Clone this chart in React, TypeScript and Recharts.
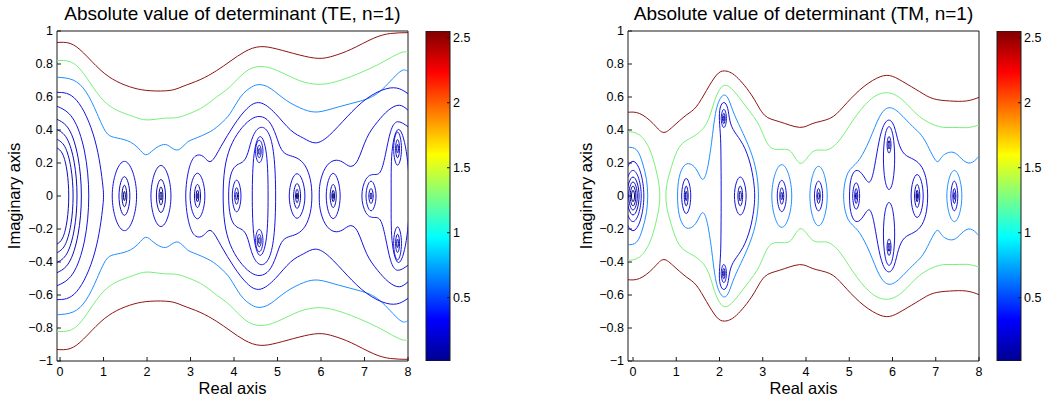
import React from 'react'
import { ScatterChart, Scatter, XAxis, YAxis, BarChart, Bar } from 'recharts'

type Pt = [number, number]

// ── Axes / labels ───────────────────────────────────────────────────────────

const xTicks = [0, 1, 2, 3, 4, 5, 6, 7, 8]
const yTicks = [-1, -0.8, -0.6, -0.4, -0.2, 0, 0.2, 0.4, 0.6, 0.8, 1]
const cbTicks = [0.5, 1, 1.5, 2, 2.5]
const cbRange: [number, number] = [0.013, 2.552]
const teXRange: [number, number] = [-0.07, 8]
const tmXRange: [number, number] = [-0.116, 8]
const titles = ['Absolute value of determinant (TE, n=1)', 'Absolute value of determinant (TM, n=1)']

// ── TE contours ─────────────────────────────────────────────────────────────

const teRedTop: Pt[] = [[-0.08,0.93],[0.23,0.925],[0.54,0.867],[0.92,0.766],[1.3,0.695],[1.69,0.655],[2.07,0.638],[2.53,0.64],[2.83,0.665],[3.22,0.705],[3.6,0.76],[3.91,0.816],[4.25,0.875],[4.6,0.905],[5.0,0.89],[5.5,0.855],[5.95,0.834],[6.3,0.85],[6.7,0.89],[7.2,0.955],[7.6,0.985],[8.0,0.99]]
const teRedBottom: Pt[] = [[-0.08,-0.93],[0.23,-0.925],[0.54,-0.867],[0.92,-0.766],[1.3,-0.695],[1.69,-0.655],[2.07,-0.638],[2.53,-0.64],[2.83,-0.665],[3.22,-0.705],[3.6,-0.76],[3.91,-0.816],[4.25,-0.875],[4.6,-0.905],[5.0,-0.89],[5.5,-0.855],[5.95,-0.834],[6.3,-0.85],[6.7,-0.89],[7.2,-0.955],[7.6,-0.985],[8.0,-0.99]]

const teGreenTop: Pt[] = [[-0.08,0.82],[0.23,0.814],[0.54,0.743],[0.92,0.602],[1.3,0.521],[1.69,0.481],[2.0,0.461],[2.38,0.471],[2.68,0.475],[2.99,0.501],[3.3,0.541],[3.6,0.6],[3.91,0.663],[4.25,0.75],[4.6,0.785],[5.0,0.76],[5.5,0.7],[5.95,0.677],[6.3,0.69],[6.7,0.725],[7.3,0.795],[7.8,0.865],[8.0,0.87]]
const teGreenBottom: Pt[] = [[-0.08,-0.82],[0.23,-0.814],[0.54,-0.743],[0.92,-0.602],[1.3,-0.521],[1.69,-0.481],[2.0,-0.461],[2.38,-0.471],[2.68,-0.475],[2.99,-0.501],[3.3,-0.541],[3.6,-0.6],[3.91,-0.663],[4.25,-0.75],[4.6,-0.785],[5.0,-0.76],[5.5,-0.7],[5.95,-0.677],[6.3,-0.69],[6.7,-0.725],[7.3,-0.795],[7.8,-0.865],[8.0,-0.87]]

const teLightTop: Pt[] = [[-0.08,0.72],[0.3,0.703],[0.6,0.63],[0.85,0.5],[1.05,0.39],[1.25,0.355],[1.55,0.335],[1.8,0.29],[1.97,0.25],[2.15,0.28],[2.38,0.312],[2.55,0.295],[2.72,0.28],[2.9,0.32],[3.07,0.345],[3.45,0.39],[3.7,0.44],[3.91,0.5],[4.15,0.6],[4.4,0.66],[4.6,0.675],[4.85,0.65],[5.2,0.58],[5.6,0.525],[5.95,0.51],[6.4,0.54],[6.9,0.575],[7.36,0.635],[7.8,0.75],[8.0,0.753]]
const teLightBottom: Pt[] = [[-0.08,-0.72],[0.3,-0.703],[0.6,-0.63],[0.85,-0.5],[1.05,-0.39],[1.25,-0.355],[1.55,-0.335],[1.8,-0.29],[1.97,-0.25],[2.15,-0.28],[2.38,-0.312],[2.55,-0.295],[2.72,-0.28],[2.9,-0.32],[3.07,-0.345],[3.45,-0.39],[3.7,-0.44],[3.91,-0.5],[4.15,-0.6],[4.4,-0.66],[4.6,-0.675],[4.85,-0.65],[5.2,-0.58],[5.6,-0.525],[5.95,-0.51],[6.4,-0.54],[6.9,-0.575],[7.36,-0.635],[7.8,-0.75],[8.0,-0.753]]

// arcs around the zero left of x = 0
const teArcsInner: Pt[][] = [
  [[-0.08,0.293],[0.06,0.254],[0.1625,0.1465],[0.2,0],[0.1625,-0.1465],[0.06,-0.254],[-0.08,-0.293]],
  [[-0.08,0.345],[0.11,0.299],[0.249,0.1725],[0.3,0],[0.249,-0.1725],[0.11,-0.299],[-0.08,-0.345]],
  [[-0.08,0.404],[0.155,0.35],[0.327,0.202],[0.39,0],[0.327,-0.202],[0.155,-0.35],[-0.08,-0.404]],
  [[-0.08,0.466],[0.205,0.404],[0.414,0.233],[0.49,0],[0.414,-0.233],[0.205,-0.404],[-0.08,-0.466]],
]
const teArcsOuter: Pt[][] = [
  [[-0.08,0.545],[0.29,0.472],[0.561,0.2725],[0.66,0],[0.561,-0.2725],[0.29,-0.472],[-0.08,-0.545]],
  [[-0.08,0.628],[0.15,0.622],[0.38,0.58],[0.61,0.48],[0.8,0.34],[0.92,0.19],[0.985,0.06],[1.0,0],[0.985,-0.06],[0.92,-0.19],[0.8,-0.34],[0.61,-0.48],[0.38,-0.58],[0.15,-0.622],[-0.08,-0.628]],
]

const teBlueOpen: Pt[][] = [
  [[8.0,0.62],[7.8,0.65],[7.5,0.65],[7.05,0.59],[6.6,0.48],[6.2,0.37],[5.88,0.322],[5.6,0.35],[5.3,0.4],[4.95,0.5],[4.6,0.565],[4.3,0.53],[4.0,0.43],[3.7,0.3],[3.47,0.21],[3.3,0.238],[3.12,0.243],[2.97,0.17],[2.89,0],[2.97,-0.17],[3.12,-0.243],[3.3,-0.238],[3.47,-0.21],[3.7,-0.3],[4.0,-0.43],[4.3,-0.53],[4.6,-0.565],[4.95,-0.5],[5.3,-0.4],[5.6,-0.35],[5.88,-0.322],[6.2,-0.37],[6.6,-0.48],[7.05,-0.59],[7.5,-0.65],[7.8,-0.65],[8.0,-0.62]],
  [[8.0,0.52],[7.8,0.55],[7.55,0.52],[7.3,0.45],[7.05,0.35],[6.85,0.22],[6.67,0.18],[6.5,0.205],[6.3,0.215],[6.1,0.17],[5.98,0.08],[5.96,0],[5.98,-0.08],[6.1,-0.17],[6.3,-0.215],[6.5,-0.205],[6.67,-0.18],[6.85,-0.22],[7.05,-0.35],[7.3,-0.45],[7.55,-0.52],[7.8,-0.55],[8.0,-0.52]],
  [[8.0,0.42],[7.76,0.45],[7.6,0.39],[7.48,0.25],[7.36,0.145],[7.2,0.13],[7.03,0.1],[6.94,0],[7.03,-0.1],[7.2,-0.13],[7.36,-0.145],[7.48,-0.25],[7.6,-0.39],[7.76,-0.45],[8.0,-0.42]],
]

const teBlueLoops: Pt[][] = [
  [[3.74,0],[3.77,0.17],[3.9,0.3],[4.12,0.4],[4.38,0.47],[4.6,0.49],[4.82,0.46],[4.97,0.37],[5.08,0.27],[5.25,0.245],[5.45,0.235],[5.65,0.19],[5.77,0.1],[5.8,0],[5.77,-0.1],[5.65,-0.19],[5.45,-0.235],[5.25,-0.245],[5.08,-0.27],[4.97,-0.37],[4.82,-0.46],[4.6,-0.49],[4.38,-0.47],[4.12,-0.4],[3.9,-0.3],[3.77,-0.17]],
  [[3.87,0],[3.89,0.1],[3.97,0.17],[4.1,0.195],[4.22,0.205],[4.32,0.25],[4.42,0.37],[4.6,0.43],[4.8,0.4],[4.93,0.27],[4.97,0],[4.93,-0.27],[4.8,-0.4],[4.6,-0.43],[4.42,-0.37],[4.32,-0.25],[4.22,-0.205],[4.1,-0.195],[3.97,-0.17],[3.89,-0.1]],
  [[4.79,0],[4.77,0.28],[4.6,0.4],[4.44,0.28],[4.41,0],[4.44,-0.28],[4.6,-0.4],[4.77,-0.28]],
  [[8.06,0],[7.98,0.29],[7.78,0.46],[7.6,0.29],[7.62,0],[7.6,-0.29],[7.78,-0.46],[7.98,-0.29]],
  [[1.9,0],[1.48,0.315],[1.06,0],[1.48,-0.315]],
  [[2.665,0],[2.32,0.2775],[1.975,0],[2.32,-0.2775]],
  [[3.415,0],[3.16,0.207],[2.905,0],[3.16,-0.207]],
  [[4.21,0],[4.06,0.144],[3.91,0],[4.06,-0.144]],
  [[4.7075,0.27],[4.58,0.372],[4.4525,0.27],[4.58,0.168]],
  [[4.7075,-0.27],[4.58,-0.168],[4.4525,-0.27],[4.58,-0.372]],
  [[5.72,0],[5.45,0.2025],[5.18,0],[5.45,-0.2025]],
  [[6.52,0],[6.28,0.2055],[6.04,0],[6.28,-0.2055]],
  [[7.3225,0],[7.15,0.135],[6.9775,0],[7.15,-0.135]],
  [[7.895,0.287],[7.76,0.437],[7.625,0.287],[7.76,0.137]],
  [[7.895,-0.287],[7.76,-0.137],[7.625,-0.287],[7.76,-0.437]],
]

const teMidLoops: Pt[][] = [
  [[1.6675,0],[1.48,0.1755],[1.2925,0],[1.48,-0.1755]],
  [[2.4775,0],[2.32,0.15],[2.1625,0],[2.32,-0.15]],
  [[3.265,0],[3.16,0.105],[3.055,0],[3.16,-0.105]],
  [[4.1275,0],[4.06,0.075],[3.9925,0],[4.06,-0.075]],
  [[4.6475,0.27],[4.58,0.327],[4.5125,0.27],[4.58,0.213]],
  [[4.6475,-0.27],[4.58,-0.213],[4.5125,-0.27],[4.58,-0.327]],
  [[5.57,0],[5.45,0.1125],[5.33,0],[5.45,-0.1125]],
  [[6.385,0],[6.28,0.105],[6.175,0],[6.28,-0.105]],
  [[7.225,0],[7.15,0.0675],[7.075,0],[7.15,-0.0675]],
  [[7.8275,0.287],[7.76,0.3695],[7.6925,0.287],[7.76,0.2045]],
  [[7.8275,-0.287],[7.76,-0.2045],[7.6925,-0.287],[7.76,-0.3695]],
]

const teInnerLoops: Pt[][] = [
  [[1.5625,0],[1.48,0.0975],[1.3975,0],[1.48,-0.0975]],
  [[2.3875,0],[2.32,0.0825],[2.2525,0],[2.32,-0.0825]],
  [[3.205,0],[3.16,0.0525],[3.115,0],[3.16,-0.0525]],
  [[4.09,0],[4.06,0.033],[4.03,0],[4.06,-0.033]],
  [[4.61,0.27],[4.58,0.297],[4.55,0.27],[4.58,0.243]],
  [[4.61,-0.27],[4.58,-0.243],[4.55,-0.27],[4.58,-0.297]],
  [[5.5025,0],[5.45,0.06],[5.3975,0],[5.45,-0.06]],
  [[6.325,0],[6.28,0.0525],[6.235,0],[6.28,-0.0525]],
  [[7.18,0],[7.15,0.03],[7.12,0],[7.15,-0.03]],
  [[7.79,0.287],[7.76,0.3245],[7.73,0.287],[7.76,0.2495]],
  [[7.79,-0.287],[7.76,-0.2495],[7.73,-0.287],[7.76,-0.3245]],
]

const teCoreLoops: Pt[][] = [
  [[1.513,0],[1.48,0.042],[1.447,0],[1.48,-0.042]],
  [[2.35,0],[2.32,0.0375],[2.29,0],[2.32,-0.0375]],
  [[3.178,0],[3.16,0.0225],[3.142,0],[3.16,-0.0225]],
  [[5.4725,0],[5.45,0.027],[5.4275,0],[5.45,-0.027]],
  [[6.3,0],[6.28,0.024],[6.26,0],[6.28,-0.024]],
]

// ── TM contours ─────────────────────────────────────────────────────────────

const tmRedTop: Pt[] = [[-0.13,0.507],[0.15,0.5],[0.46,0.44],[0.69,0.386],[0.92,0.42],[1.23,0.49],[1.46,0.54],[1.7,0.64],[1.93,0.733],[2.12,0.758],[2.39,0.723],[2.77,0.6],[3.04,0.49],[3.39,0.45],[3.85,0.416],[4.16,0.44],[4.55,0.47],[4.86,0.54],[5.24,0.642],[5.63,0.713],[5.93,0.73],[6.24,0.693],[6.63,0.632],[6.94,0.59],[7.32,0.576],[7.71,0.576],[8.0,0.598]]
const tmRedBottom: Pt[] = [[-0.13,-0.507],[0.15,-0.5],[0.46,-0.44],[0.69,-0.386],[0.92,-0.42],[1.23,-0.49],[1.46,-0.54],[1.7,-0.64],[1.93,-0.733],[2.12,-0.758],[2.39,-0.723],[2.77,-0.6],[3.04,-0.49],[3.39,-0.45],[3.85,-0.416],[4.16,-0.44],[4.55,-0.47],[4.86,-0.54],[5.24,-0.642],[5.63,-0.713],[5.93,-0.73],[6.24,-0.693],[6.63,-0.632],[6.94,-0.59],[7.32,-0.576],[7.71,-0.576],[8.0,-0.598]]

const tmGreenOpen: Pt[][] = [
  [[-0.13,0.39],[0.15,0.37],[0.39,0.28],[0.53,0.16],[0.6,0.07],[0.62,0],[0.6,-0.07],[0.53,-0.16],[0.39,-0.28],[0.15,-0.37],[-0.13,-0.39]],
  [[8.0,0.43],[7.71,0.414],[7.4,0.416],[7.09,0.42],[6.63,0.48],[6.24,0.58],[5.86,0.626],[5.47,0.58],[5.09,0.46],[4.78,0.34],[4.47,0.279],[4.16,0.269],[3.89,0.198],[3.68,0.26],[3.47,0.283],[3.16,0.3],[2.93,0.42],[2.62,0.54],[2.31,0.642],[2.08,0.667],[1.89,0.58],[1.7,0.44],[1.39,0.36],[1.08,0.3],[0.89,0.178],[0.79,0.08],[0.76,0],[0.79,-0.08],[0.89,-0.178],[1.08,-0.3],[1.39,-0.36],[1.7,-0.44],[1.89,-0.58],[2.08,-0.667],[2.31,-0.642],[2.62,-0.54],[2.93,-0.42],[3.16,-0.3],[3.47,-0.283],[3.68,-0.26],[3.89,-0.198],[4.16,-0.269],[4.47,-0.279],[4.78,-0.34],[5.09,-0.46],[5.47,-0.58],[5.86,-0.626],[6.24,-0.58],[6.63,-0.48],[7.09,-0.42],[7.4,-0.416],[7.71,-0.414],[8.0,-0.43]],
]

const tmLightOpen: Pt[][] = [
  [[-0.13,0.295],[0.08,0.28],[0.22,0.2],[0.31,0.1],[0.34,0],[0.31,-0.1],[0.22,-0.2],[0.08,-0.28],[-0.13,-0.295]],
  [[8.0,0.24],[7.8,0.2],[7.6,0.225],[7.4,0.265],[7.15,0.24],[7.0,0.215],[6.74,0.34],[6.47,0.42],[6.17,0.5],[5.92,0.535],[5.7,0.48],[5.47,0.34],[5.2,0.21],[4.97,0.14],[4.87,0],[4.97,-0.14],[5.2,-0.21],[5.47,-0.34],[5.7,-0.48],[5.92,-0.535],[6.17,-0.5],[6.47,-0.42],[6.74,-0.34],[7.0,-0.215],[7.15,-0.24],[7.4,-0.265],[7.6,-0.225],[7.8,-0.2],[8.0,-0.24]],
]

const tmLightLoops: Pt[][] = [
  [[1.02,0],[1.05,0.12],[1.18,0.195],[1.32,0.2],[1.46,0.17],[1.56,0.11],[1.63,0.09],[1.72,0.15],[1.82,0.32],[1.9,0.52],[2.02,0.6],[2.12,0.62],[2.22,0.59],[2.32,0.5],[2.55,0.38],[2.77,0.245],[2.88,0.12],[2.91,0],[2.88,-0.12],[2.77,-0.245],[2.55,-0.38],[2.32,-0.5],[2.22,-0.59],[2.12,-0.62],[2.02,-0.6],[1.9,-0.52],[1.82,-0.32],[1.72,-0.15],[1.63,-0.09],[1.56,-0.11],[1.46,-0.17],[1.32,-0.2],[1.18,-0.195],[1.05,-0.12]],
  [[3.785,0],[3.44,0.285],[3.095,0],[3.44,-0.285]],
  [[4.59,0],[4.29,0.27],[3.99,0],[4.29,-0.27]],
  [[7.69,0],[7.43,0.2325],[7.17,0],[7.43,-0.2325]],
]

const tmBlueLoops: Pt[][] = [
  [[0.375,0],[0,0.315],[-0.375,0],[0,-0.315]],
  [[0.285,0],[0,0.2325],[-0.285,0],[0,-0.2325]],
  [[1.3875,0],[1.23,0.159],[1.0725,0],[1.23,-0.159]],
  [[2.04,0],[2.035,0.2],[2.03,0.36],[1.99,0.46],[2.0,0.54],[2.1,0.58],[2.2,0.54],[2.23,0.45],[2.33,0.39],[2.55,0.32],[2.72,0.2],[2.8,0.08],[2.82,0],[2.8,-0.08],[2.72,-0.2],[2.55,-0.32],[2.33,-0.39],[2.23,-0.45],[2.2,-0.54],[2.1,-0.58],[2.0,-0.54],[1.99,-0.46],[2.03,-0.36],[2.035,-0.2]],
  [[2.19,0.47],[2.1,0.5525],[2.01,0.47],[2.1,0.3875]],
  [[2.19,-0.47],[2.1,-0.3875],[2.01,-0.47],[2.1,-0.5525]],
  [[2.6825,0],[2.48,0.1725],[2.2775,0],[2.48,-0.1725]],
  [[3.5975,0],[3.44,0.1425],[3.2825,0],[3.44,-0.1425]],
  [[4.4325,0],[4.29,0.135],[4.1475,0],[4.29,-0.135]],
  [[5.0,0],[5.02,0.1],[5.12,0.16],[5.25,0.155],[5.38,0.1],[5.47,0.07],[5.56,0.13],[5.66,0.3],[5.77,0.43],[5.92,0.475],[6.05,0.43],[6.13,0.32],[6.26,0.245],[6.5,0.225],[6.7,0.18],[6.8,0.09],[6.82,0],[6.8,-0.09],[6.7,-0.18],[6.5,-0.225],[6.26,-0.245],[6.13,-0.32],[6.05,-0.43],[5.92,-0.475],[5.77,-0.43],[5.66,-0.3],[5.56,-0.13],[5.47,-0.07],[5.38,-0.1],[5.25,-0.155],[5.12,-0.16],[5.02,-0.1]],
  [[5.28,0],[5.16,0.12],[5.04,0],[5.16,-0.12]],
  [[6.064,0.23],[6.022,0.379],[5.92,0.441],[5.818,0.379],[5.776,0.23],[5.818,0.081],[5.92,0.019],[6.022,0.081]],
  [[6.064,-0.23],[6.022,-0.081],[5.92,-0.019],[5.818,-0.081],[5.776,-0.23],[5.818,-0.379],[5.92,-0.441],[6.022,-0.379]],
  [[6.78,0],[6.57,0.195],[6.36,0],[6.57,-0.195]],
  [[7.55,0],[7.43,0.135],[7.31,0],[7.43,-0.135]],
]

const tmMidLoops: Pt[][] = [
  [[0.21,0],[0,0.1725],[-0.21,0],[0,-0.1725]],
  [[0.15,0],[0,0.1275],[-0.15,0],[0,-0.1275]],
  [[1.2975,0],[1.23,0.09],[1.1625,0],[1.23,-0.09]],
  [[2.145,0.47],[2.1,0.518],[2.055,0.47],[2.1,0.422]],
  [[2.145,-0.47],[2.1,-0.422],[2.055,-0.47],[2.1,-0.518]],
  [[2.5625,0],[2.48,0.09],[2.3975,0],[2.48,-0.09]],
  [[3.5075,0],[3.44,0.075],[3.3725,0],[3.44,-0.075]],
  [[4.35,0],[4.29,0.0675],[4.23,0],[4.29,-0.0675]],
  [[5.2125,0],[5.16,0.0675],[5.1075,0],[5.16,-0.0675]],
  [[5.9875,0.31],[5.92,0.385],[5.8525,0.31],[5.92,0.235]],
  [[5.9875,-0.31],[5.92,-0.235],[5.8525,-0.31],[5.92,-0.385]],
  [[6.66,0],[6.57,0.105],[6.48,0],[6.57,-0.105]],
  [[7.4825,0],[7.43,0.0675],[7.3775,0],[7.43,-0.0675]],
]

const tmInnerLoops: Pt[][] = [
  [[0.0975,0],[0,0.09],[-0.0975,0],[0,-0.09]],
  [[1.26,0],[1.23,0.042],[1.2,0],[1.23,-0.042]],
  [[2.12,0.47],[2.1,0.4925],[2.08,0.47],[2.1,0.4475]],
  [[2.12,-0.47],[2.1,-0.4475],[2.08,-0.47],[2.1,-0.4925]],
  [[2.5175,0],[2.48,0.045],[2.4425,0],[2.48,-0.045]],
  [[3.47,0],[3.44,0.033],[3.41,0],[3.44,-0.033]],
  [[4.32,0],[4.29,0.03],[4.26,0],[4.29,-0.03]],
  [[5.1825,0],[5.16,0.03],[5.1375,0],[5.16,-0.03]],
  [[5.95,0.31],[5.92,0.3475],[5.89,0.31],[5.92,0.2725]],
  [[5.95,-0.31],[5.92,-0.2725],[5.89,-0.31],[5.92,-0.3475]],
  [[6.6075,0],[6.57,0.0525],[6.5325,0],[6.57,-0.0525]],
  [[7.4525,0],[7.43,0.03],[7.4075,0],[7.43,-0.03]],
]

const tmCoreLoops: Pt[][] = [
  [[0.0525,0],[0,0.0525],[-0.0525,0],[0,-0.0525]],
  [[6.588,0],[6.57,0.024],[6.552,0],[6.57,-0.024]],
]

// ── Styling ─────────────────────────────────────────────────────────────────

const FONT = '"Liberation Sans", Arial, Helvetica, sans-serif'
const RED = '#8e1414'
const GREEN = '#78f078'
const LBLUE = '#1f8fff'
const BLUE = '#1414e0'
const BLUE2 = '#0a0ac0'
const DBLUE = '#00009c'
const NAVY = '#000070'
const AXIS = '#1a1a1a'

type Group = { lines: Pt[][]; color: string; closed?: boolean }

const xy = (pts: Pt[]) => pts.map(([x, y]) => ({ x, y }))
const noDot = () => null
const fmtTick = (v: number) => (v < 0 ? `\u2212${Math.abs(v)}` : `${v}`)

function renderCurves(groups: Group[], prefix: string) {
  const out: React.ReactNode[] = []
  groups.forEach((g, gi) => {
    g.lines.forEach((pts, i) => {
      out.push(
        <Scatter
          key={`${prefix}-${gi}-${i}`}
          xAxisId="b"
          yAxisId="l"
          data={xy(pts)}
          fill={g.color}
          line={{ stroke: g.color, strokeWidth: 1 }}
          lineType="joint"
          lineJointType={g.closed ? 'basisClosed' : 'natural'}
          shape={noDot}
          isAnimationActive={false}
        />,
      )
    })
  })
  return out
}

const tickStyle = { fontSize: 12.5, fill: '#000', fontFamily: FONT }

function Panel({ left, xRange, groups, id }: { left: number; xRange: [number, number]; groups: Group[]; id: string }) {
  return (
    <div style={{ position: 'absolute', left, top: 0 }}>
      <ScatterChart width={430} height={402} margin={{ top: 30, right: 21, bottom: 11, left: 17 }}>
        <XAxis xAxisId="b" type="number" dataKey="x" domain={xRange} ticks={xTicks} allowDataOverflow interval={0}
          height={30} tickSize={-4} tickMargin={10} tick={tickStyle}
          axisLine={{ stroke: AXIS }} tickLine={{ stroke: AXIS }} />
        <XAxis xAxisId="t" orientation="top" type="number" domain={xRange} ticks={xTicks} allowDataOverflow interval={0}
          height={1} tickSize={-4} tick={false} axisLine={{ stroke: AXIS }} tickLine={{ stroke: AXIS }} />
        <YAxis yAxisId="l" type="number" dataKey="y" domain={[-1, 1]} ticks={yTicks} allowDataOverflow interval={0}
          width={40} tickSize={-4} tickMargin={8} tick={tickStyle} tickFormatter={fmtTick}
          axisLine={{ stroke: AXIS }} tickLine={{ stroke: AXIS }} />
        <YAxis yAxisId="r" orientation="right" type="number" domain={[-1, 1]} ticks={yTicks} allowDataOverflow interval={0}
          width={1} tickSize={-4} tick={false} axisLine={{ stroke: AXIS }} tickLine={{ stroke: AXIS }} />
        {renderCurves(groups, id)}
      </ScatterChart>
    </div>
  )
}

function ColorBar({ left, id }: { left: number; id: string }) {
  return (
    <div style={{ position: 'absolute', left: left - 6, top: 0 }}>
      <BarChart width={60} height={402} data={[{ name: 'c', v: cbRange[1] }]}
        margin={{ top: 31, right: 0, bottom: 41, left: 5 }} barCategoryGap={0} barGap={0}>
        <defs>
          <linearGradient id={id} x1="0" y1="1" x2="0" y2="0">
            <stop offset="0" stopColor="#00008f" />
            <stop offset="0.125" stopColor="#0000ff" />
            <stop offset="0.375" stopColor="#00ffff" />
            <stop offset="0.625" stopColor="#ffff00" />
            <stop offset="0.875" stopColor="#ff0000" />
            <stop offset="1" stopColor="#800000" />
          </linearGradient>
        </defs>
        <XAxis dataKey="name" hide />
        <YAxis yAxisId="l" type="number" domain={cbRange} ticks={cbTicks} allowDataOverflow width={1}
          tickSize={-3} tick={false} axisLine={false} tickLine={{ stroke: AXIS }} />
        <YAxis yAxisId="r" orientation="right" type="number" domain={cbRange} ticks={cbTicks} allowDataOverflow width={30}
          interval={0} tickSize={-3} tickMargin={6} tick={tickStyle} axisLine={false} tickLine={{ stroke: AXIS }} />
        <Bar yAxisId="r" dataKey="v" fill={`url(#${id})`} stroke={AXIS} strokeWidth={1} isAnimationActive={false} />
      </BarChart>
    </div>
  )
}

export default function App() {
  const teGroups: Group[] = [
    { lines: [teRedTop, teRedBottom], color: RED },
    { lines: [teGreenTop, teGreenBottom], color: GREEN },
    { lines: [teLightTop, teLightBottom], color: LBLUE },
    { lines: teArcsOuter, color: BLUE },
    { lines: teArcsInner, color: BLUE2 },
    { lines: teBlueOpen, color: BLUE },
    { lines: teBlueLoops, color: BLUE, closed: true },
    { lines: teMidLoops, color: BLUE2, closed: true },
    { lines: teInnerLoops, color: DBLUE, closed: true },
    { lines: teCoreLoops, color: NAVY, closed: true },
  ]
  const tmGroups: Group[] = [
    { lines: [tmRedTop, tmRedBottom], color: RED },
    { lines: tmGreenOpen, color: GREEN },
    { lines: tmLightOpen, color: LBLUE },
    { lines: tmLightLoops, color: LBLUE, closed: true },
    { lines: tmBlueLoops, color: BLUE, closed: true },
    { lines: tmMidLoops, color: BLUE2, closed: true },
    { lines: tmInnerLoops, color: DBLUE, closed: true },
    { lines: tmCoreLoops, color: NAVY, closed: true },
  ]

  return (
    <div style={{ position: 'absolute', left: 0, top: 0, width: 1051, height: 402, background: '#fff', fontFamily: FONT }}>
      <Panel left={0} xRange={teXRange} groups={teGroups} id="te" />
      <Panel left={571} xRange={tmXRange} groups={tmGroups} id="tm" />
      <ColorBar left={426} id="jetTE" />
      <ColorBar left={997} id="jetTM" />
      <svg width={1051} height={402} style={{ position: 'absolute', left: 0, top: 0, pointerEvents: 'none' }}>
        <g fontFamily={FONT} fill="#000" textAnchor="middle">
          <text x={232.5} y={19.5} fontSize={19}>{titles[0]}</text>
          <text x={803.5} y={19.5} fontSize={19}>{titles[1]}</text>
          <text x={232.5} y={394} fontSize={16.5}>Real axis</text>
          <text x={803.5} y={394} fontSize={16.5}>Real axis</text>
          <text transform="translate(20,196) rotate(-90)" fontSize={16.5}>Imaginary axis</text>
          <text transform="translate(591.5,196) rotate(-90)" fontSize={16.5}>Imaginary axis</text>
        </g>
      </svg>
    </div>
  )
}
